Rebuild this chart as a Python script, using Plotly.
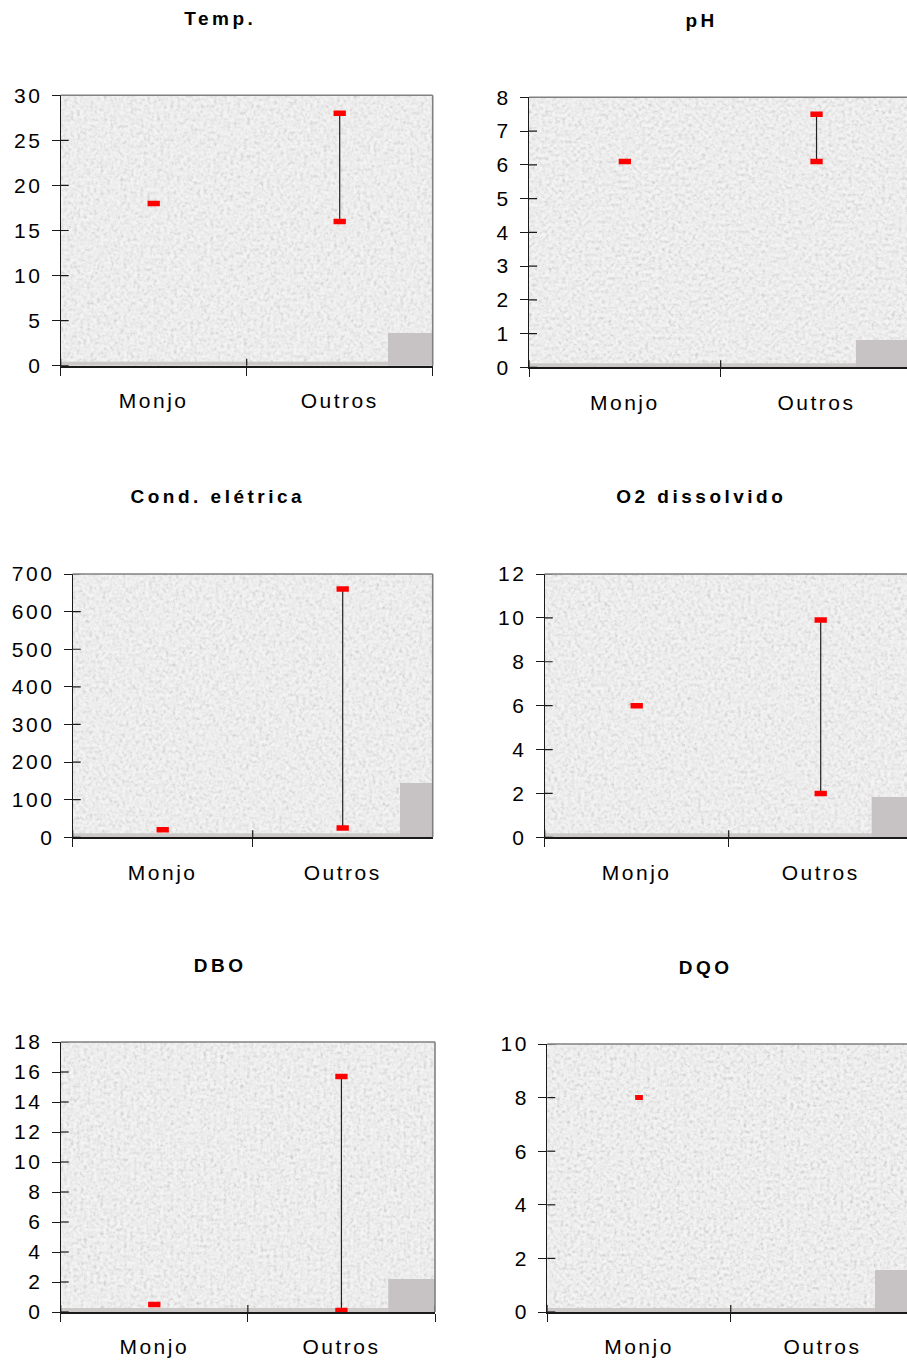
import base64
import plotly.graph_objects as go

# ---------------- data ----------------
categories = ["Monjo", "Outros"]
titles = ["Temp.", "pH", "Cond. elétrica", "O2 dissolvido", "DBO", "DQO"]
monjo_values = [18, 6.1, 20, 6.0, 0.5, 8]
outros_min = [16, 6.1, 25, 2.0, 0.1, None]
outros_max = [28, 7.5, 660, 9.9, 15.7, None]
y_max = [30, 8, 700, 12, 18, 10]
y_dtick = [5, 1, 100, 2, 2, 2]

# ---------------- geometry / style ----------------
W, H = 907, 1361
# left, right, top, bottom (px), x-range end
panels = [
    (60.7, 432.7, 95.3, 365.7, 1.5),
    (529.0, 912.7, 97.3, 367.3, 1.472),
    (72.7, 432.7, 574.0, 837.3, 1.5),
    (544.7, 912.7, 574.0, 837.3, 1.469),
    (60.7, 435.0, 1042.0, 1312.0, 1.5),
    (547.3, 914.0, 1044.0, 1312.0, 1.461),
]
title_pos = [(220, 19), (701, 21), (218, 496), (701, 496), (220, 965), (705, 967)]
# grey floor block: left edge x (px) and its top y (px)
floor_block = [(388, 333), (856, 340), (400, 783), (871.7, 797), (388.3, 1279), (875, 1270)]
marker_size = [8.8, 8.8, 8.8, 8.8, 8.8, 5.5]
marker_width = [5.5, 5.5, 5.5, 5.5, 5.5, 5.0]

FONT = "Liberation Sans, Arial, sans-serif"
RED = "#ff0000"
AXIS = "#1a1a1a"
tv = "0.71 0.75 0.79 0.84 0.89 0.93 0.953 0.962 0.968 0.972 0.975"


def wall_svg(w, h, bx, by, seed):
    """Granite-like wall texture with the grey floor remnants, in panel pixels."""
    svg = f"""<svg xmlns='http://www.w3.org/2000/svg' width='{w:.1f}' height='{h:.1f}' viewBox='0 0 {w:.1f} {h:.1f}'>
<filter id='g' x='0' y='0' width='1' height='1' color-interpolation-filters='sRGB'>
<feTurbulence type='fractalNoise' baseFrequency='0.3' numOctaves='3' seed='{seed}'/>
<feColorMatrix type='matrix' values='0.34 0.33 0.33 0 0 0.34 0.33 0.33 0 0 0.34 0.33 0.33 0 0 0 0 0 0 1'/>
<feComponentTransfer>
<feFuncR type='table' tableValues='{tv}'/>
<feFuncG type='table' tableValues='{tv}'/>
<feFuncB type='table' tableValues='{tv}'/>
</feComponentTransfer>
</filter>
<rect width='{w:.1f}' height='{h:.1f}' fill='#ffffff' filter='url(#g)'/>
<rect x='0' y='{h-4:.1f}' width='{w:.1f}' height='4' fill='#cdc9c9'/>
<rect x='{bx:.1f}' y='{by:.1f}' width='{w-bx:.1f}' height='{h-by:.1f}' fill='#c7c3c4'/>
</svg>"""
    return "data:image/svg+xml;base64," + base64.b64encode(svg.encode()).decode()


fig = go.Figure()
shapes, images, annotations = [], [], []
layout_axes = {}

for i in range(6):
    k = i + 1
    sx = "" if k == 1 else str(k)
    xr, yr = "x" + sx, "y" + sx
    left, right, top, bottom, xend = panels[i]
    vis_right = min(right, W)

    # min-max connector for "Outros"
    if outros_min[i] is not None:
        fig.add_trace(go.Scatter(
            x=[categories[1], categories[1]], y=[outros_min[i], outros_max[i]],
            mode="lines", line=dict(color="#222222", width=1.2),
            xaxis=xr, yaxis=yr, showlegend=False, hoverinfo="skip"))
        xs = [categories[0], categories[1], categories[1]]
        ys = [monjo_values[i], outros_min[i], outros_max[i]]
    else:
        xs = [categories[0]]
        ys = [monjo_values[i]]
    fig.add_trace(go.Scatter(
        x=xs, y=ys, mode="markers",
        marker=dict(symbol="line-ew", size=marker_size[i],
                    line=dict(color=RED, width=marker_width[i])),
        xaxis=xr, yaxis=yr, showlegend=False))

    xdom = [left / W, vis_right / W]
    ydom = [1 - bottom / H, 1 - top / H]

    layout_axes["xaxis" + sx] = dict(
        domain=xdom, anchor=yr, type="category", categoryarray=categories,
        range=[-0.5, xend], tickson="boundaries", ticks="outside", ticklen=8,
        tickcolor=AXIS, tickwidth=1.2, showline=True, linecolor=AXIS, linewidth=2,
        showgrid=False, zeroline=False, ticklabelstandoff=15, automargin=False,
        tickfont=dict(family=FONT, size=21, color="#000000"), fixedrange=True)
    layout_axes["yaxis" + sx] = dict(
        domain=ydom, anchor=xr, range=[0, y_max[i]], dtick=y_dtick[i], tick0=0,
        ticks="outside", ticklen=8, tickcolor=AXIS, tickwidth=1.2,
        showline=True, linecolor=AXIS, linewidth=1.3, showgrid=False, zeroline=False,
        ticklabelstandoff=5, automargin=False,
        tickfont=dict(family=FONT, size=21, color="#000000"), fixedrange=True)

    # inner half of the crossing tick marks (y axis)
    n_ticks = int(round(y_max[i] / y_dtick[i]))
    for j in range(n_ticks + 1):
        v = j * y_dtick[i]
        shapes.append(dict(type="line", xref=xr + " domain", yref=yr,
                           xsizemode="pixel", xanchor=0, x0=0, x1=8, y0=v, y1=v,
                           line=dict(color=AXIS, width=1.2), layer="above"))
    # inner half of the crossing tick marks (x axis, category boundaries)
    for j in range(len(categories) + 1):
        b = j - 0.5
        if b > xend:
            continue
        shapes.append(dict(type="line", xref=xr, yref=yr + " domain",
                           ysizemode="pixel", yanchor=0, x0=b, x1=b, y0=0, y1=7,
                           line=dict(color=AXIS, width=1.2), layer="above"))

    # granite wall texture with floor remnants
    pw, ph = vis_right - left, bottom - top
    bx, by = floor_block[i]
    images.append(dict(source=wall_svg(pw, ph, bx - left, by - top, 5 + 7 * i),
                       xref=xr + " domain", yref=yr + " domain",
                       x=0, y=1, sizex=1, sizey=1, xanchor="left", yanchor="top",
                       sizing="stretch", layer="below"))
    # grey frame: top and right edges
    shapes.append(dict(type="line", xref=xr + " domain", yref=yr + " domain",
                       x0=0, x1=1, y0=1, y1=1,
                       line=dict(color="#808080", width=1.6), layer="above"))
    if right <= W:
        shapes.append(dict(type="line", xref=xr + " domain", yref=yr + " domain",
                           x0=1, x1=1, y0=0, y1=1,
                           line=dict(color="#808080", width=1.6), layer="above"))

    tx, ty = title_pos[i]
    annotations.append(dict(text="<b>%s</b>" % titles[i], xref="paper", yref="paper",
                            x=tx / W, y=1 - ty / H, xanchor="center", yanchor="middle",
                            showarrow=False,
                            font=dict(family=FONT, size=19, color="#000000")))

fig.update_layout(
    width=W, height=H, margin=dict(l=0, r=0, t=0, b=0, pad=0, autoexpand=False),
    paper_bgcolor="#ffffff", plot_bgcolor="#e9e9e9",
    shapes=shapes, images=images, annotations=annotations,
    showlegend=False, **layout_axes)

css = (".xaxislayer-above text,.yaxislayer-above text{letter-spacing:2.5px}"
       ".annotation-text{letter-spacing:3.5px}")
post = "var s=document.createElement('style');s.textContent='%s';document.head.appendChild(s);" % css
fig.write_html("out.html", post_script=post, config={"displayModeBar": False})
